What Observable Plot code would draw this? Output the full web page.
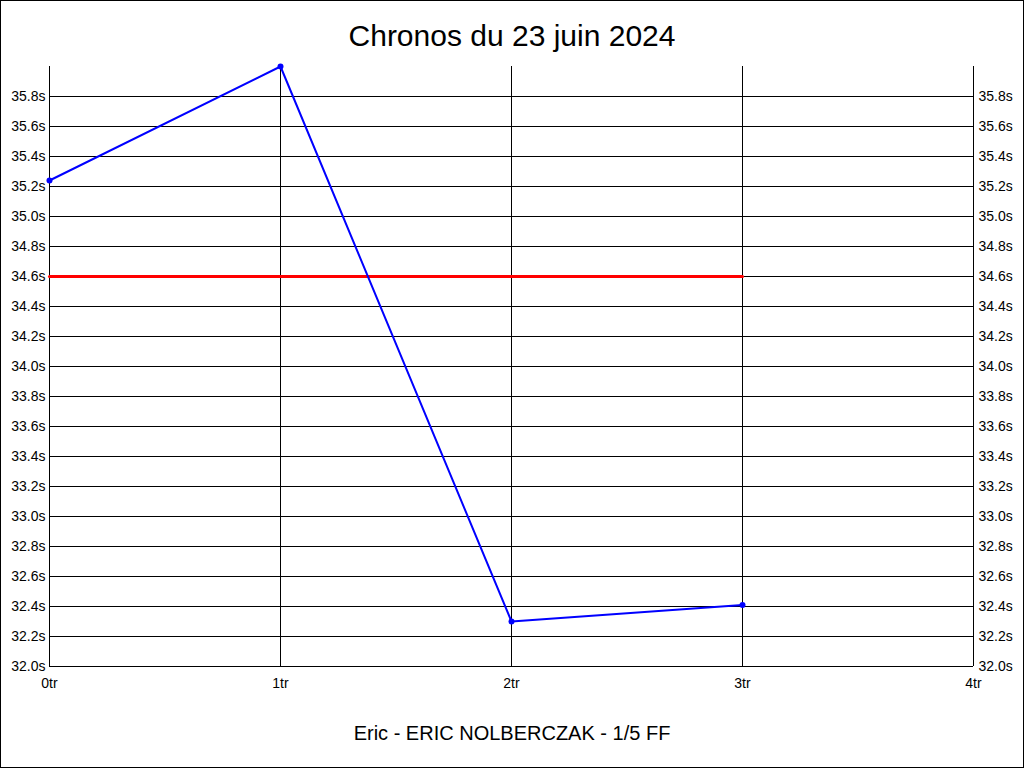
<!DOCTYPE html>
<html>
<head>
<meta charset="utf-8">
<script src="https://cdn.jsdelivr.net/npm/d3@7"></script>
<script src="https://cdn.jsdelivr.net/npm/@observablehq/plot@0.6"></script>
<style>
  html, body { margin: 0; padding: 0; background: #fff; }
  #wrap { position: relative; width: 1024px; height: 768px; overflow: hidden; background: #fff;
          font-family: "Liberation Sans", Arial, sans-serif; color: #000; }
  #frame { position: absolute; left: 0; top: 0; width: 1024px; height: 768px; box-sizing: border-box;
           border: 1px solid #000; pointer-events: none; }
  #title { position: absolute; left: 0; top: 0; width: 1024px; height: 72px; line-height: 72px;
           text-align: center; font-size: 30px; }
  #caption { position: absolute; left: 0; top: 700px; width: 1024px; height: 66px; line-height: 66px;
             text-align: center; font-size: 20px; }
  #chart svg { display: block; }
</style>
</head>
<body>
<div id="wrap">
  <div id="chart"></div>
  <div id="title">Chronos du 23 juin 2024</div>
  <div id="caption">Eric - ERIC NOLBERCZAK - 1/5 FF</div>
  <div id="frame"></div>
</div>
<script>
// Data
const laps = [0, 1, 2, 3];
const times = [35.24, 36.0, 32.30, 32.41];
const refLaps = [0, 3];
const refTime = 34.6;
const xTicks = [0, 1, 2, 3, 4];
const yTicks = [32.0, 32.2, 32.4, 32.6, 32.8, 33.0, 33.2, 33.4, 33.6, 33.8,
                34.0, 34.2, 34.4, 34.6, 34.8, 35.0, 35.2, 35.4, 35.6, 35.8];

const data = laps.map((l, i) => ({lap: l, time: times[i]}));
const refData = refLaps.map(l => ({lap: l, time: refTime}));
const gridY = yTicks.filter(t => t > 32);

const fmtY = d => d.toFixed(1) + "s";
const fmtX = d => d + "tr";

const chart = Plot.plot({
  width: 1024,
  height: 700,
  marginTop: 66,
  marginBottom: 34,
  marginLeft: 49,
  marginRight: 51,
  style: {fontFamily: "Liberation Sans, Arial, sans-serif", fontSize: "14px", color: "#000", background: "transparent"},
  x: {domain: [0, 4], label: null},
  y: {domain: [32, 36], label: null},
  marks: [
    Plot.ruleY(gridY, {stroke: "#000", strokeWidth: 1}),
    Plot.ruleX(xTicks, {stroke: "#000", strokeWidth: 1}),
    Plot.ruleY([32], {stroke: "#000", strokeWidth: 1}),
    Plot.line(refData, {x: "lap", y: "time", stroke: "#ff0000", strokeWidth: 3}),
    Plot.line(data, {x: "lap", y: "time", stroke: "#0000ff", strokeWidth: 2}),
    Plot.dot(data, {x: "lap", y: "time", r: 3, fill: "#0000ff", stroke: "none"}),
    Plot.axisY(yTicks, {anchor: "left", tickFormat: fmtY, tickSize: 0, tickPadding: 4, fontSize: 14, label: null}),
    Plot.axisY(yTicks, {anchor: "right", tickFormat: fmtY, tickSize: 0, tickPadding: 5, fontSize: 14, label: null}),
    Plot.axisX(xTicks, {anchor: "bottom", tickFormat: fmtX, tickSize: 0, tickPadding: 12, fontSize: 14, label: null})
  ]
});
document.getElementById("chart").appendChild(chart);
</script>
</body>
</html>
